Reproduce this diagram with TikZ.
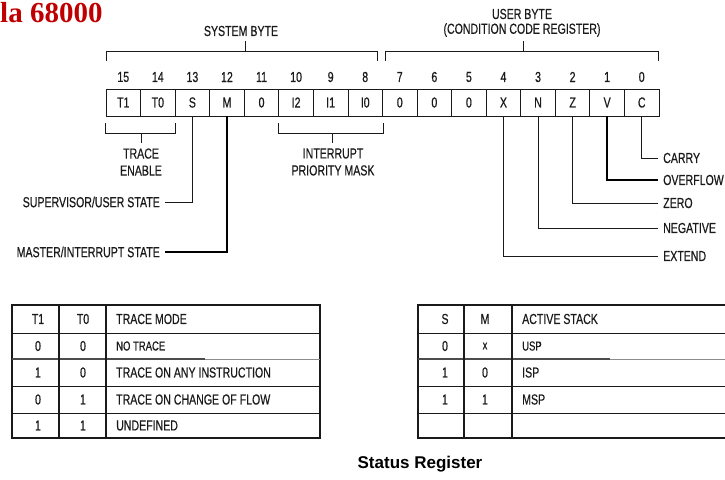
\documentclass[tikz,border=0pt]{standalone}
\usepackage{fontspec}
\setmainfont{Liberation Serif}
\newfontfamily\narrowf[FakeStretch=0.73,FakeBold=0.5]{Liberation Sans}
\newfontfamily\boldsansf{Liberation Sans}
\usetikzlibrary{calc}
\newcommand\labfont{\narrowf\fontsize{14.5}{16}\selectfont}
\newcommand\smallfont{\narrowf\fontsize{13}{14}\selectfont}
\definecolor{titlered}{HTML}{C00000}
\definecolor{ink}{HTML}{1A1A1A}
\tikzset{
  cell/.style={draw=ink, line width=0.8pt, minimum width=34.5625pt, minimum height=27pt, inner sep=0pt, font=\labfont, text=ink},
  lab/.style={font=\labfont, text=ink, inner sep=0pt},
  slab/.style={font=\smallfont, text=ink, inner sep=0pt},
  ln/.style={line width=0.8pt, draw=ink},
  thk/.style={line width=1.4pt, draw=black},
  gridln/.style={line width=0.9pt, draw=ink},
}
\begin{document}
\begin{tikzpicture}[x=1pt,y=-1pt]
\useasboundingbox (0,0) rectangle (725,479);
% title
\node[anchor=base west, inner sep=0pt, text=titlered, font=\bfseries\fontsize{29}{32}\selectfont] (title) at (0,23) {la 68000};
% register cells
\foreach \t [count=\i from 0] in {T1,T0,S,M,0,I2,I1,I0,0,0,0,X,N,Z,V,C}{
  \pgfmathtruncatemacro\bit{15-\i}
  \node[cell] (c\bit) at ({106+34.5625*(\i+0.5)},102.5) {\t};
  \node[lab] (n\bit) at ({106+34.5625*(\i+0.5)},77) {\bit};
}
% system byte bracket
\coordinate (sbl) at (106,61);
\coordinate (sbr) at (377,61);
\draw[ln] (sbl) -- (106,51) -- (377,51) -- (sbr);
\draw[ln] (245,51) -- (245,41);
\node[lab] (sysbyte) at (241,31) {SYSTEM BYTE};
% user byte bracket
\draw[ln] (385,61) -- (385,51) -- (658,51) -- (658,61);
\draw[ln] (523,51) -- (523,41);
\node[lab] (userbyte) at (522,14) {USER BYTE};
\node[lab] (ccr) at (522,30) {(CONDITION CODE REGISTER)};
% trace enable bracket
\draw[ln] ($(c15.south west)+(0,7)$) -- (c15.south west |- 0,133) -- (c14.south east |- 0,133) -- ($(c14.south east)+(0,7)$);
\draw[ln] (c15.south east |- 0,133) -- (c15.south east |- 0,143);
\node[lab, align=center] (trace) at (141,162) {TRACE\\[1pt]ENABLE};
% interrupt bracket
\draw[ln] ($(c10.south west)+(0,7)$) -- (c10.south west |- 0,133) -- (c8.south east |- 0,133) -- ($(c8.south east)+(0,7)$);
\draw[ln] (332,133) -- (332,143);
\node[lab, align=center] (ipm) at (333,162) {INTERRUPT\\[1pt]PRIORITY MASK};
% left labels
\node[lab, anchor=east] (sup) at (160,202) {SUPERVISOR/USER STATE};
\node[lab, anchor=east] (mas) at (160,252) {MASTER/INTERRUPT STATE};
\draw[ln] (c13.south) |- ([xshift=5pt]sup.east);
\draw[thk] (c12.south) |- ([xshift=5pt]mas.east);
% right labels
\node[lab, anchor=west] (carry) at (663,158) {CARRY};
\node[lab, anchor=west] (ovf) at (663,180) {OVERFLOW};
\node[lab, anchor=west] (zero) at (663,203) {ZERO};
\node[lab, anchor=west] (neg) at (663,228) {NEGATIVE};
\node[lab, anchor=west] (ext) at (663,256) {EXTEND};
\draw[ln] (c0.south) |- ([xshift=-5pt]carry.west);
\draw[thk] (c1.south) |- ([xshift=-5pt]ovf.west);
\draw[ln] (c2.south) |- ([xshift=-5pt]zero.west);
\draw[ln] (c3.south) |- ([xshift=-5pt]neg.west);
\draw[ln] (c4.south) |- ([xshift=-5pt]ext.west);
% trace mode table
\draw[line width=1.4pt, draw=ink] (12,305) rectangle (320,438);
\foreach \yy in {333,386,413} \draw[gridln] (12,\yy) -- (320,\yy);
\draw[line width=1.6pt, draw=black!70] (12,359) -- (205,359);
\draw[line width=1pt, draw=black!45] (205,359) -- (320,359);
\draw[line width=2pt, draw=ink] (59,305) -- (59,438);
\draw[line width=1.2pt, draw=ink] (106,305) -- (106,438);
\node[lab] (tt1) at (38,319) {T1};
\node[lab] (tt0) at (83,319) {T0};
\node[lab, anchor=west] (tmh) at (116,319) {TRACE MODE};
\node[lab] (a1) at (38,346) {0};   \node[lab] (a2) at (83,346) {0};   \node[slab, anchor=west] (a3) at (116,346) {NO TRACE};
\node[lab] (b1) at (38,372.5) {1}; \node[lab] (b2) at (83,372.5) {0}; \node[lab, anchor=west] (b3) at (116,372.5) {TRACE ON ANY INSTRUCTION};
\node[lab] (d1) at (38,399.5) {0}; \node[lab] (d2) at (83,399.5) {1}; \node[lab, anchor=west] (d3) at (116,399.5) {TRACE ON CHANGE OF FLOW};
\node[lab] (e1) at (38,425.5) {1}; \node[lab] (e2) at (83,425.5) {1}; \node[lab, anchor=west] (e3) at (116,425.5) {UNDEFINED};
% active stack table
\draw[line width=1.4pt, draw=ink] (726,305) -- (418,305) -- (418,438) -- (726,438);
\foreach \yy in {333,386,413} \draw[gridln] (418,\yy) -- (725,\yy);
\draw[line width=1.6pt, draw=black!70] (418,359) -- (610,359);
\draw[line width=1pt, draw=black!45] (610,359) -- (725,359);
\draw[line width=2pt, draw=ink] (464,305) -- (464,438);
\draw[line width=1.2pt, draw=ink] (512,305) -- (512,438);
\node[lab] (st1) at (445,319) {S};
\node[lab] (st2) at (485,319) {M};
\node[lab, anchor=west] (st3) at (522,319) {ACTIVE STACK};
\node[lab] (u1) at (445,346) {0};   \node[slab] (u2) at (485,346) {x};   \node[slab, anchor=west] (u3) at (522,346) {USP};
\node[lab] (i1) at (445,372.5) {1}; \node[lab] (i2) at (485,372.5) {0}; \node[lab, anchor=west] (i3) at (522,372.5) {ISP};
\node[lab] (m1) at (445,399.5) {1}; \node[lab] (m2) at (485,399.5) {1}; \node[lab, anchor=west] (m3) at (522,399.5) {MSP};
% caption
\node[inner sep=0pt, font=\boldsansf\bfseries\fontsize{17}{20}\selectfont] (cap) at (420,464) {Status Register};
\end{tikzpicture}
\end{document}
